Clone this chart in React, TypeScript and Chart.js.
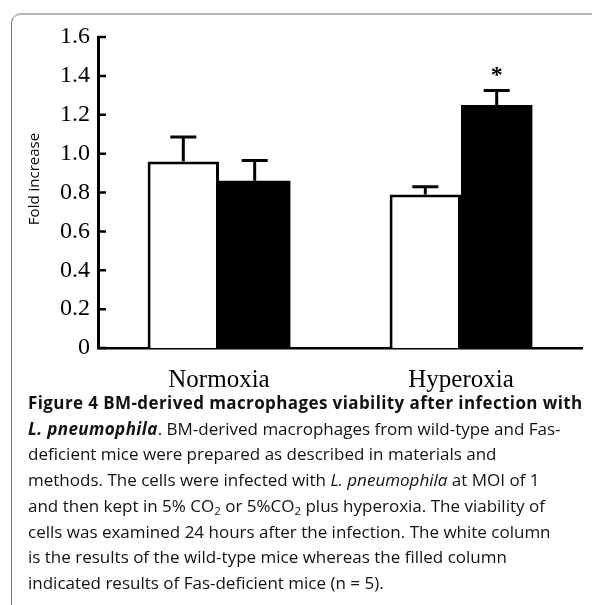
import React, { useEffect, useRef } from 'react';
import { Chart, registerables } from 'chart.js';

Chart.register(...registerables);

const categories = ['Normoxia', 'Hyperoxia'];
const wildTypeValues = [0.96, 0.79];
const wildTypeErrors = [0.125, 0.04];
const fasDeficientValues = [0.86, 1.25];
const fasDeficientErrors = [0.105, 0.075];
const fasSignificance = ['', '*'];
const yTickValues = [0, 0.2, 0.4, 0.6, 0.8, 1.0, 1.2, 1.4, 1.6];
const yAxisTitle = 'Fold increase';

const errorBarPlugin = {
  id: 'errorBarsAndTicks',
  afterDatasetsDraw(chart: any) {
    const ctx = chart.ctx;
    const yScale = chart.scales.y;
    const errs = [wildTypeErrors, fasDeficientErrors];
    const marks = [['', ''], fasSignificance];
    chart.data.datasets.forEach((ds: any, di: number) => {
      const meta = chart.getDatasetMeta(di);
      meta.data.forEach((bar: any, i: number) => {
        const v = ds.data[i];
        const base = yScale.getPixelForValue(v);
        const top = yScale.getPixelForValue(v + errs[di][i]);
        ctx.save();
        ctx.strokeStyle = '#000';
        ctx.lineWidth = 3;
        ctx.beginPath();
        ctx.moveTo(bar.x, base);
        ctx.lineTo(bar.x, top);
        ctx.moveTo(bar.x - 13, top);
        ctx.lineTo(bar.x + 13, top);
        ctx.stroke();
        const m = marks[di][i];
        if (m) {
          ctx.fillStyle = '#000';
          ctx.font = 'bold 24px "Liberation Serif"';
          ctx.textAlign = 'center';
          ctx.textBaseline = 'middle';
          ctx.fillText(m, bar.x, top - 15);
        }
        ctx.restore();
      });
    });
    // inside tick marks on y axis
    const x0 = yScale.right;
    ctx.save();
    ctx.strokeStyle = '#000';
    ctx.lineWidth = 2.5;
    ctx.beginPath();
    yTickValues.forEach((t) => {
      const py = yScale.getPixelForValue(t);
      ctx.moveTo(x0, py);
      ctx.lineTo(x0 + 8, py);
    });
    ctx.stroke();
    // y axis title
    ctx.translate(35, 179);
    ctx.rotate(-Math.PI / 2);
    ctx.fillStyle = '#000';
    ctx.font = '15px "Open Sans"';
    ctx.textAlign = 'center';
    ctx.textBaseline = 'middle';
    ctx.fillText(yAxisTitle, 0, 0);
    ctx.restore();
  },
};

function BarChart() {
  const ref = useRef<HTMLCanvasElement>(null);
  useEffect(() => {
    if (!ref.current) return;
    const chart = new Chart(ref.current, {
      type: 'bar',
      data: {
        labels: categories,
        datasets: [
          {
            label: 'Wild-type',
            data: wildTypeValues,
            backgroundColor: '#ffffff',
            borderColor: '#000000',
            borderWidth: 3,
            borderSkipped: 'bottom',
          },
          {
            label: 'Fas-deficient',
            data: fasDeficientValues,
            backgroundColor: '#000000',
            borderColor: '#000000',
            borderWidth: 0,
          },
        ],
      },
      options: {
        animation: false,
        responsive: false,
        maintainAspectRatio: false,
        devicePixelRatio: 1,
        layout: { padding: { top: 37, right: 10, left: 0, bottom: 0 } },
        datasets: { bar: { categoryPercentage: 0.59, barPercentage: 1 } },
        plugins: {
          legend: { display: false },
          tooltip: { enabled: false },
        },
        scales: {
          x: {
            grid: { display: false, drawTicks: false },
            border: { display: true, color: '#000', width: 2.5 },
            ticks: {
              color: '#000',
              padding: 17,
              font: { family: '"Liberation Serif"', size: 25 },
            },
            afterFit: (s: any) => {
              s.height = 52;
            },
          },
          y: {
            min: 0,
            max: 1.6,
            grid: { display: false, drawTicks: false },
            border: { display: true, color: '#000', width: 3 },
            afterBuildTicks: (s: any) => {
              s.ticks = yTickValues.map((v) => ({ value: v }));
            },
            ticks: {
              color: '#000',
              padding: 8,
              font: { family: '"Liberation Serif"', size: 24 },
              callback: (v: any) => (Number(v) === 0 ? '0' : Number(v).toFixed(1)),
            },
            afterFit: (s: any) => {
              s.width = 98;
            },
          },
        },
      },
      plugins: [errorBarPlugin],
    });
    return () => chart.destroy();
  }, []);
  return (
    <canvas
      ref={ref}
      width={592}
      height={400}
      style={{ position: 'absolute', left: 0, top: 0, width: 592, height: 400 }}
    />
  );
}

const subStyle: React.CSSProperties = { fontSize: '11.5px', lineHeight: 0, verticalAlign: '-3px' };
const boldStyle: React.CSSProperties = { letterSpacing: '0.4px' };

export default function App() {
  return (
    <div style={{ position: 'absolute', left: 0, top: 0, width: 592, height: 605, background: '#fff', overflow: 'hidden' }}>
      <div
        style={{
          position: 'absolute',
          left: 11,
          top: 13,
          width: 620,
          height: 640,
          borderTop: '2px solid #b5b5b5',
          borderLeft: '1.5px solid #777',
          borderTopLeftRadius: 10,
        }}
      />
      <BarChart />
      <div
        style={{
          position: 'absolute',
          left: 28,
          top: 390,
          whiteSpace: 'nowrap',
          fontFamily: '"Open Sans"',
          fontSize: 17,
          lineHeight: '25.7px',
          color: '#111',
        }}
      >
        <b style={boldStyle}>Figure 4 BM-derived macrophages viability after infection with</b>
        <br />
        <b style={boldStyle}><i>L. pneumophila</i></b>. BM-derived macrophages from wild-type and Fas-
        <br />
        deficient mice were prepared as described in materials and
        <br />
        methods. The cells were infected with <i>L. pneumophila</i> at MOI of 1
        <br />
        and then kept in 5% CO<sub style={subStyle}>2</sub> or 5%CO<sub style={subStyle}>2</sub> plus hyperoxia. The viability of
        <br />
        cells was examined 24 hours after the infection. The white column
        <br />
        is the results of the wild-type mice whereas the filled column
        <br />
        indicated results of Fas-deficient mice (n = 5).
      </div>
    </div>
  );
}
